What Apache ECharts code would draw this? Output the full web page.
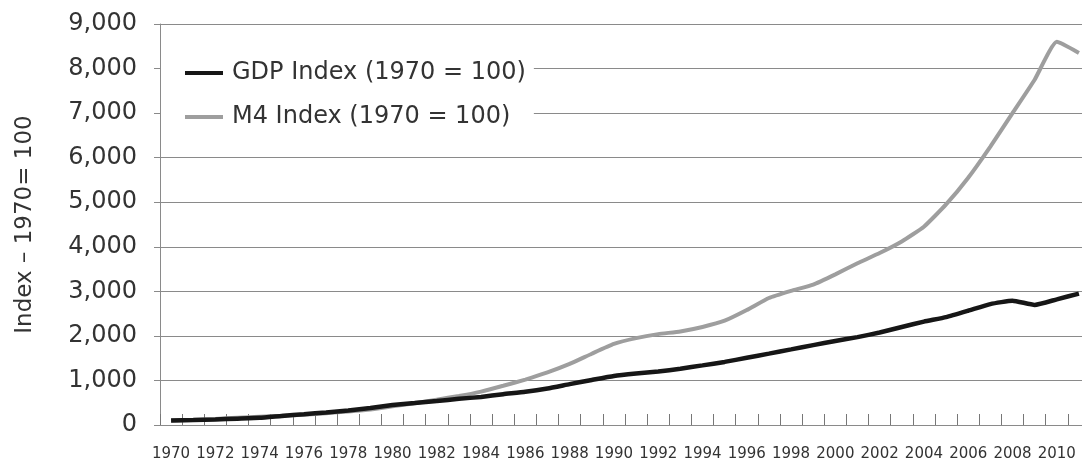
<!DOCTYPE html>
<html>
<head>
<meta charset="utf-8">
<script src="https://cdn.jsdelivr.net/npm/echarts@6/dist/echarts.min.js"></script>
<style>
  html, body { margin: 0; padding: 0; background: #fff; overflow: hidden; width: 1082px; height: 463px; }
  #chart { width: 1090px; height: 463px; }
</style>
</head>
<body>
<div id="chart"></div>
<script>
const years = ['1970','1971','1972','1973','1974','1975','1976','1977','1978','1979',
  '1980','1981','1982','1983','1984','1985','1986','1987','1988','1989',
  '1990','1991','1992','1993','1994','1995','1996','1997','1998','1999',
  '2000','2001','2002','2003','2004','2005','2006','2007','2008','2009',
  '2010','2011'];

const gdpIndex = [100,111,125,143,162,204,242,282,325,383,
  447,492,539,588,630,691,744,819,917,1011,
  1101,1156,1201,1263,1338,1416,1509,1602,1697,1793,
  1885,1973,2076,2200,2321,2421,2564,2714,2790,2695,
  2820,2950];

const m4Index = [100,113,135,165,185,205,230,265,305,350,
  420,490,570,650,750,880,1020,1180,1370,1600,
  1820,1950,2040,2100,2200,2340,2580,2850,3010,3150,
  3380,3630,3860,4120,4450,4950,5550,6250,7000,7750,
  8600,8350];

const seriesNames = ['GDP Index (1970 = 100)', 'M4 Index (1970 = 100)'];
const yAxisName = 'Index \u2013 1970= 100';

const font = 'DejaVu Sans';
const chart = echarts.init(document.getElementById('chart'), null, { renderer: 'canvas' });
chart.setOption({
  backgroundColor: '#ffffff',
  animation: false,
  grid: { left: 160, top: 24, right: 0, bottom: 38, containLabel: false },
  legend: {
    orient: 'vertical',
    left: 161,
    top: 47,
    data: seriesNames,
    backgroundColor: '#ffffff',
    padding: [14, 8, 10, 24],
    icon: 'rect',
    itemWidth: 38,
    itemHeight: 4,
    itemGap: 20,
    textStyle: { fontFamily: font, fontSize: 24, lineHeight: 24, color: '#333333', padding: [0, 0, 0, 4] }
  },
  xAxis: {
    type: 'category',
    data: years,
    boundaryGap: true,
    axisLine: { show: true, lineStyle: { color: '#8a8a8a', width: 1 } },
    axisTick: { show: true, inside: true, length: 11, interval: 0, lineStyle: { color: '#777777', width: 1 } },
    axisLabel: { interval: 1, margin: 22, fontFamily: font, fontSize: 15, color: '#333333' },
    splitLine: { show: false }
  },
  yAxis: {
    type: 'value',
    min: 0,
    max: 9000,
    interval: 1000,
    name: yAxisName,
    nameLocation: 'middle',
    nameGap: 123,
    nameTextStyle: { fontFamily: font, fontSize: 23, color: '#333333' },
    axisLine: { show: true, lineStyle: { color: '#8a8a8a', width: 1 } },
    axisTick: { show: true, inside: false, length: 6, lineStyle: { color: '#8a8a8a', width: 1 } },
    axisLabel: {
      margin: 23,
      fontFamily: font,
      fontSize: 24,
      color: '#333333',
      formatter: v => v.toLocaleString('en-US')
    },
    splitLine: { show: true, lineStyle: { color: '#8a8a8a', width: 1 } }
  },
  series: [
    {
      name: seriesNames[1],
      type: 'line',
      data: m4Index,
      symbol: 'none',
      smooth: 0.15,
      lineStyle: { color: '#9e9e9e', width: 4 },
      itemStyle: { color: '#9e9e9e' },
      z: 2
    },
    {
      name: seriesNames[0],
      type: 'line',
      data: gdpIndex,
      symbol: 'none',
      smooth: 0.15,
      lineStyle: { color: '#161616', width: 4.5 },
      itemStyle: { color: '#161616' },
      z: 3
    }
  ]
});
</script>
</body>
</html>
